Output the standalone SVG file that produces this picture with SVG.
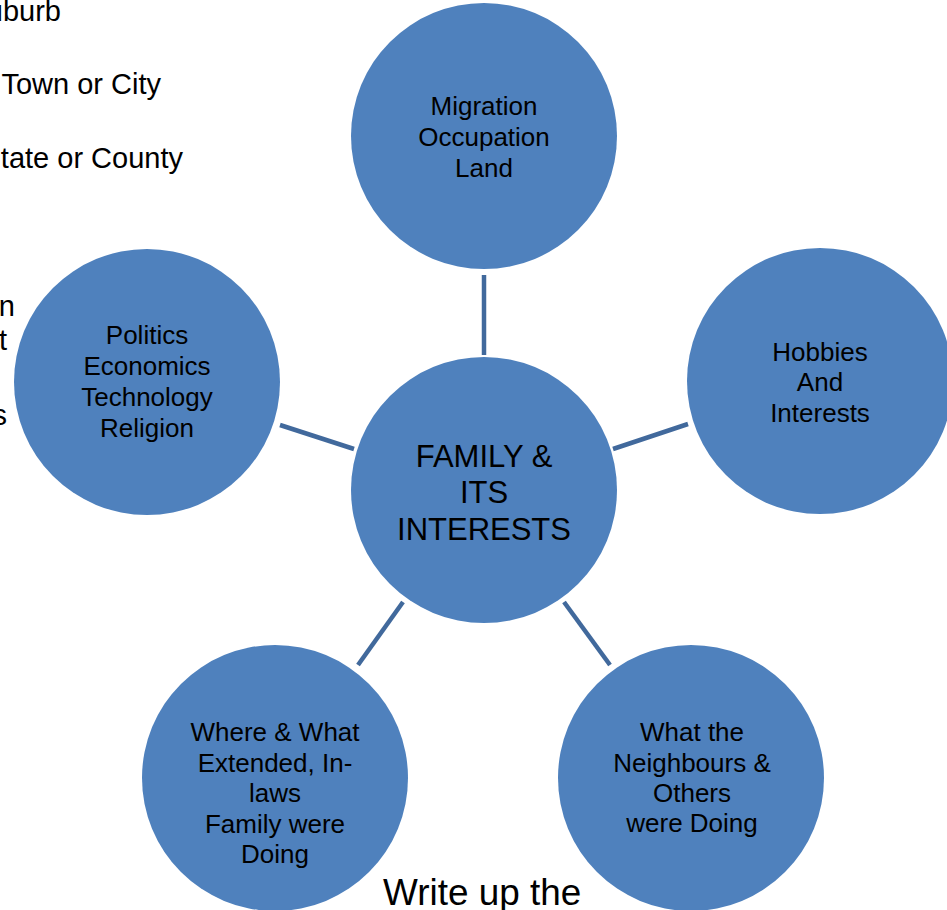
<svg xmlns="http://www.w3.org/2000/svg" width="947" height="910" viewBox="0 0 947 910">
<style>
.node{fill:#4F81BD;}
.lbl{font-family:"Liberation Sans",Arial,sans-serif;font-size:26px;fill:#000;text-anchor:middle;}
.big{font-family:"Liberation Sans",Arial,sans-serif;font-size:31px;fill:#000;text-anchor:middle;}
.side{font-family:"Liberation Sans",Arial,sans-serif;font-size:29px;fill:#000;text-anchor:end;}
.conn{stroke:#41699C;stroke-width:4.5;fill:none;}
</style>
<rect width="947" height="910" fill="#fff"/>
<g id="background-text">
<text class="side" x="61" y="21">uburb</text>
<text class="side" x="161" y="94">Town or City</text>
<text class="side" x="183" y="168">tate or County</text>
<text class="side" x="15" y="316">n</text>
<text class="side" x="7" y="350">t</text>
<text class="side" x="7" y="425">s</text>
<text x="383" y="905" style="font-family:'Liberation Sans',Arial,sans-serif;font-size:36.9px;fill:#000;">Write up the</text>
</g>
<g id="connectors">
<line class="conn" x1="484" y1="275" x2="484" y2="355"/>
<line class="conn" x1="613" y1="449" x2="688" y2="424"/>
<line class="conn" x1="280" y1="425" x2="354" y2="449"/>
<line class="conn" x1="403" y1="602" x2="358" y2="665"/>
<line class="conn" x1="564" y1="602" x2="610" y2="665"/>
</g>
<g id="center">
<circle class="node" cx="484" cy="490" r="133"/>
<text class="big" x="484" y="467">FAMILY &amp;</text>
<text class="big" x="484" y="503">ITS</text>
<text class="big" x="484" y="540">INTERESTS</text>
</g>
<g id="migration">
<circle class="node" cx="484" cy="136" r="133"/>
<text class="lbl" x="484" y="115">Migration</text>
<text class="lbl" x="484" y="146">Occupation</text>
<text class="lbl" x="484" y="177">Land</text>
</g>
<g id="hobbies">
<circle class="node" cx="820" cy="381" r="133"/>
<text class="lbl" x="820" y="361">Hobbies</text>
<text class="lbl" x="820" y="391">And</text>
<text class="lbl" x="820" y="422">Interests</text>
</g>
<g id="politics">
<circle class="node" cx="147" cy="382" r="133"/>
<text class="lbl" x="147" y="344">Politics</text>
<text class="lbl" x="147" y="375">Economics</text>
<text class="lbl" x="147" y="406">Technology</text>
<text class="lbl" x="147" y="437">Religion</text>
</g>
<g id="extended-family">
<circle class="node" cx="275" cy="778" r="133"/>
<text class="lbl" x="275" y="741">Where &amp; What</text>
<text class="lbl" x="275" y="772">Extended, In-</text>
<text class="lbl" x="275" y="802">laws</text>
<text class="lbl" x="275" y="833">Family were</text>
<text class="lbl" x="275" y="863">Doing</text>
</g>
<g id="neighbours">
<circle class="node" cx="691" cy="778" r="133"/>
<text class="lbl" x="692" y="741">What the</text>
<text class="lbl" x="692" y="772">Neighbours &amp;</text>
<text class="lbl" x="692" y="802">Others</text>
<text class="lbl" x="692" y="832">were Doing</text>
</g>
</svg>
